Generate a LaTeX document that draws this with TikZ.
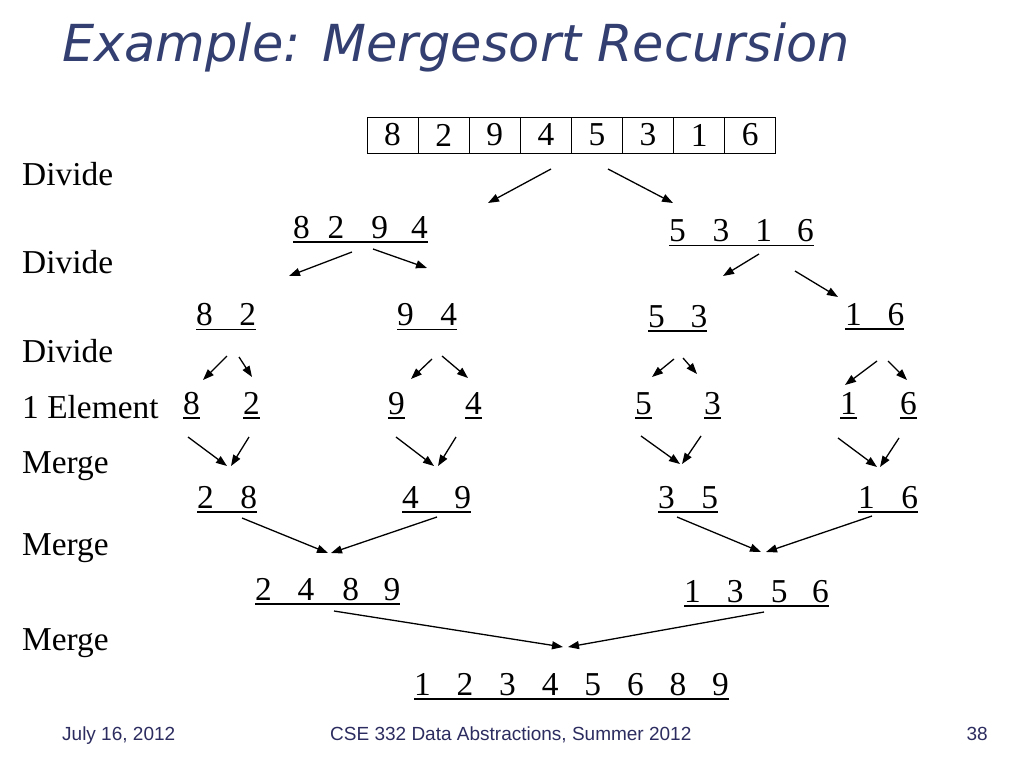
\documentclass[tikz,border=0pt]{standalone}
\usepackage{fontspec}
\setmainfont{Liberation Serif}
\newfontfamily\titlefont{DejaVu Sans}
\newfontfamily\footfont{Liberation Sans}
\usetikzlibrary{arrows.meta}
\definecolor{titleblue}{RGB}{51,63,112}
\definecolor{footblue}{RGB}{44,44,96}
\begin{document}
\begin{tikzpicture}[x=1pt,y=-1pt,
  cell/.style={draw, line width=1pt, minimum width=51.1pt, minimum height=36pt, inner sep=0pt, outer sep=0pt, font=\fontsize{33.4}{40}\selectfont},
  num/.style={inner sep=0pt, outer sep=0pt, anchor=base west, font=\fontsize{33.4}{40}\selectfont},
  lbl/.style={inner sep=0pt, anchor=base west, font=\fontsize{33.4}{40}\selectfont},
  ul/.style={line width=1.7pt},
  arr/.style={line width=1.3pt, -{Triangle[length=11pt,width=8pt]}},
  foot/.style={inner sep=0pt, anchor=base west, text=footblue, font=\footfont\fontsize{19}{22}\selectfont}]
\path[use as bounding box, fill=white] (0,0) rectangle (1024,768);

% title
\node[inner sep=0pt, anchor=base west, text=titleblue, font=\titlefont\itshape\fontsize{51}{60}\selectfont] (title) at (62,62) {Example: Mergesort Recursion};

% top array
\foreach \d [count=\i from 0] in {8,2,9,4,5,3,1,6}
  \node[cell] (c\i) at (392.55+51.1*\i,135) {\d};

% left labels
\node[lbl] (l1) at (22,185) {Divide};
\node[lbl] (l2) at (22,273) {Divide};
\node[lbl] (l3) at (22,362) {Divide};
\node[lbl] (l4) at (22,418) {1 Element};
\node[lbl] (l5) at (22,473) {Merge};
\node[lbl] (l6) at (22,555) {Merge};
\node[lbl] (l7) at (22,650) {Merge};

% groups
\node[num] (g8294) at (293,238) {8\hspace{18pt}2\hspace{27pt}9\hspace{23pt}4};
\node[num] (g5316) at (669,241.5) {5\hspace{27pt}3\hspace{26pt}1\hspace{25pt}6};
\node[num] (g82) at (196,325.5) {8\hspace{26.6pt}2};
\node[num] (g94) at (397,325.5) {9\hspace{26.6pt}4};
\node[num] (g53) at (648,327) {5\hspace{26pt}3};
\node[num] (g16a) at (845,325) {1\hspace{26pt}6};
\node[num] (s8) at (183,414) {8};
\node[num] (s2) at (243,414) {2};
\node[num] (s9) at (388,414) {9};
\node[num] (s4) at (465,414) {4};
\node[num] (s5) at (635,414) {5};
\node[num] (s3) at (704,414) {3};
\node[num] (s1) at (840,414) {1};
\node[num] (s6) at (900,414) {6};
\node[num] (g28) at (197,508) {2\hspace{26.6pt}8};
\node[num] (g49) at (402,508) {4\hspace{35.6pt}9};
\node[num] (g35) at (658,508) {3\hspace{26.6pt}5};
\node[num] (g16b) at (858,508) {1\hspace{26.6pt}6};
\node[num] (g2489) at (255,600) {2\hspace{26pt}4\hspace{28pt}8\hspace{24.5pt}9};
\node[num] (g1356) at (684,602) {1\hspace{26.3pt}3\hspace{27.3pt}5\hspace{24.3pt}6};
\node[num] (gall) at (414,695) {1\hspace{25.9pt}2\hspace{25.9pt}3\hspace{25.9pt}4\hspace{25.9pt}5\hspace{25.9pt}6\hspace{25.9pt}8\hspace{25.9pt}9};

\foreach \g in {g8294,g5316,g82,g94,g53,g16a,s8,s2,s9,s4,s5,s3,s1,s6,g28,g49,g35,g16b,g2489,g1356,gall}
  \draw[ul] ([yshift=-4pt]\g.base west) -- ([yshift=-4pt]\g.base east);

% arrows
\foreach \n/\xa/\ya/\xb/\yb in {
  1/551/169/488/203, 2/608/169/673/203,
  3/352/252/289/276, 4/373/249/427/268,
  5/759/254/723/276, 6/795/271/838/297,
  7/227/356/203/380, 8/239/357/252/377,
  9/432/359/411/379, 10/442/356/468/378,
  11/674/359/652/377, 12/683/358/697/374,
  13/877/361/845/385, 14/888/361/907/380,
  15/188/437/227/466, 16/249/437/231/466,
  17/396/437/434/466, 18/456/437/438/466,
  19/641/436/680/464, 20/701/436/682/464,
  21/838/438/877/467, 22/899/438/880/467,
  23/242/518/328/553, 24/437/517/331/553,
  25/677/517/761/552, 26/872/516/766/552,
  27/334/611/563/647, 28/764/612/568/647}{
  \coordinate (as\n) at (\xa,\ya);
  \coordinate (ae\n) at (\xb,\yb);
  \draw[arr] (as\n) -- (ae\n);
}

% footer
\node[foot] (f1) at (62,740) {July 16, 2012};
\node[foot] (f2) at (330,740) {CSE 332 Data Abstractions, Summer 2012};
\node[foot, anchor=base east] (f3) at (988,740) {38};
\end{tikzpicture}
\end{document}
